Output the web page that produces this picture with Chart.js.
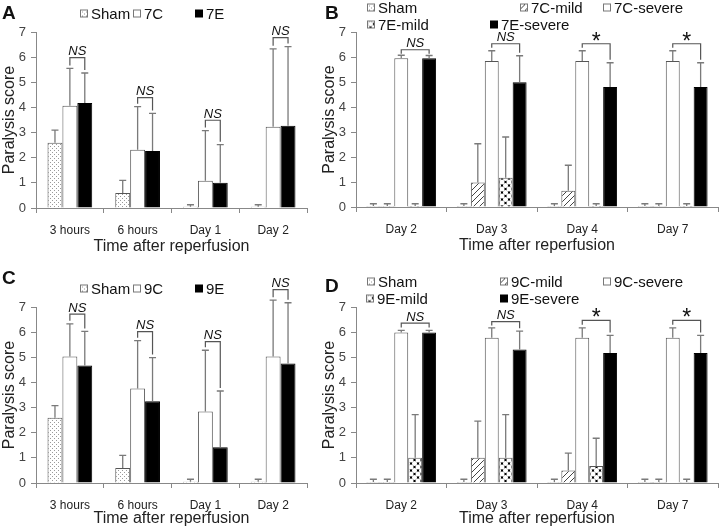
<!DOCTYPE html>
<html>
<head>
<meta charset="utf-8">
<script src="https://cdn.jsdelivr.net/npm/chart.js@4.4.0/dist/chart.umd.min.js"></script>
<style>
  body { margin: 0; width: 720px; height: 528px; position: relative; overflow: hidden; background: #fff;
         font-family: "Liberation Sans", Arial, sans-serif; color: #111; }
  canvas.panel { position: absolute; }
  .lbl { position: absolute; font-weight: bold; font-size: 19px; line-height: 1; transform: translateY(-50%); }
  .leg { position: absolute; font-size: 15px; line-height: 1; white-space: nowrap; transform: translateY(-50%);
         display: flex; align-items: center; }
  .leg canvas { margin-right: 3px; }
</style>
</head>
<body>
<canvas id="chartA" class="panel" width="320" height="264" style="left:0;top:0"></canvas>
<canvas id="chartB" class="panel" width="400" height="264" style="left:320px;top:0"></canvas>
<canvas id="chartC" class="panel" width="320" height="268" style="left:0;top:264px"></canvas>
<canvas id="chartD" class="panel" width="400" height="268" style="left:320px;top:264px"></canvas>

<div class="lbl" style="left:2px;top:12px">A</div>
<div class="lbl" style="left:325px;top:12px">B</div>
<div class="lbl" style="left:2px;top:277px">C</div>
<div class="lbl" style="left:325px;top:285px">D</div>
<div id="legends"></div>

<script>
// categories
const hoursLabels = ['3 hours', '6 hours', 'Day 1', 'Day 2'];
const daysLabels = ['Day 2', 'Day 3', 'Day 4', 'Day 7'];

// panel A (mean, SD)
const shamA = [2.6, 0.6, 0.05, 0.05];
const shamA_sd = [0.5, 0.5, 0.08, 0.08];
const c7A = [4.07, 2.32, 1.08, 3.23];
const c7A_sd = [1.48, 1.71, 2.0, 3.1];
const e7A = [4.18, 2.27, 1.0, 3.27];
const e7A_sd = [1.19, 1.49, 1.52, 3.15];
const bracketA = [5.98, 4.39, 3.49, 6.78];
const sigA = ['NS', 'NS', 'NS', 'NS'];

// panel B
const shamB = [0.04, 0.04, 0.04, 0.04];
const shamB_sd = [0.09, 0.09, 0.09, 0.09];
const c7mildB = [0.04, 0.98, 0.65, 0.04];
const c7mildB_sd = [0.09, 1.55, 1.02, 0.09];
const c7sevB = [5.95, 5.84, 5.84, 5.84];
const c7sevB_sd = [0.12, 0.41, 0.41, 0.41];
const e7mildB = [0.04, 1.17, 0.04, 0.04];
const e7mildB_sd = [0.09, 1.63, 0.09, 0.09];
const e7sevB = [5.95, 4.99, 4.8, 4.8];
const e7sevB_sd = [0.11, 1.06, 0.97, 0.97];
const bracketB = [6.29, 6.53, 6.53, 6.53];
const sigB = ['NS', 'NS', '*', '*'];

// panel C
const shamC = [2.6, 0.6, 0.05, 0.05];
const shamC_sd = [0.48, 0.5, 0.1, 0.1];
const c9C = [5.03, 3.76, 2.84, 5.03];
const c9C_sd = [1.3, 1.9, 2.44, 2.24];
const e9C = [4.67, 3.25, 1.42, 4.75];
const e9C_sd = [1.36, 1.74, 2.24, 2.42];
const bracketC = [6.72, 6.02, 5.62, 7.69];
const sigC = ['NS', 'NS', 'NS', 'NS'];

// panel D
const shamD = [0.04, 0.04, 0.04, 0.04];
const shamD_sd = [0.11, 0.11, 0.11, 0.11];
const c9mildD = [0.04, 1.0, 0.5, 0.04];
const c9mildD_sd = [0.11, 1.46, 0.69, 0.11];
const c9sevD = [5.99, 5.78, 5.78, 5.78];
const c9sevD_sd = [0.08, 0.39, 0.39, 0.39];
const e9mildD = [1.0, 1.0, 0.68, 0.04];
const e9mildD_sd = [1.72, 1.72, 1.1, 0.11];
const e9sevD = [5.99, 5.31, 5.17, 5.17];
const e9sevD_sd = [0.08, 0.73, 0.7, 0.7];
const bracketD = [6.36, 6.42, 6.47, 6.47];
const sigD = ['NS', 'NS', '*', '*'];

const FONT = '"Liberation Sans", Arial, sans-serif';

// fill patterns
function tile(size, draw) {
  const c = document.createElement('canvas');
  c.width = c.height = size;
  draw(c.getContext('2d'), size);
  return c;
}
const tiles = {
  dots: tile(4, (g) => {
    g.fillStyle = '#fff'; g.fillRect(0, 0, 4, 4);
    g.fillStyle = '#9a9a9a'; g.fillRect(0, 0, 1, 1); g.fillRect(2, 2, 1, 1);
  }),
  hatch: tile(6, (g, s) => {
    g.fillStyle = '#fff'; g.fillRect(0, 0, s, s);
    g.strokeStyle = '#444'; g.lineWidth = 1;
    g.beginPath();
    g.moveTo(-1, s + 1); g.lineTo(s + 1, -1);
    g.moveTo(-1, 1); g.lineTo(1, -1);
    g.moveTo(s - 1, s + 1); g.lineTo(s + 1, s - 1);
    g.stroke();
  }),
  cross: tile(7, (g, s) => {
    g.fillStyle = '#000'; g.fillRect(0, 0, s, s);
    g.fillStyle = '#fff';
    [[s / 2, s / 2], [0, 0], [s, 0], [0, s], [s, s]].forEach(([x, y]) => {
      g.beginPath(); g.arc(x, y, 2.5, 0, Math.PI * 2); g.fill();
    });
  }),
  white: tile(2, (g) => { g.fillStyle = '#fff'; g.fillRect(0, 0, 2, 2); }),
  black: tile(2, (g) => { g.fillStyle = '#000'; g.fillRect(0, 0, 2, 2); })
};
const pctx = document.createElement('canvas').getContext('2d');
function pat(name) { return pctx.createPattern(tiles[name], 'repeat'); }

function ds(label, data, sd, fill) {
  return {
    label, data, sd,
    backgroundColor: fill === 'black' ? '#000' : (fill === 'white' ? '#fff' : pat(fill)),
    borderColor: fill === 'black' ? '#000' : '#555',
    borderWidth: 1,
    barPercentage: 1
  };
}

// one-sided error bars
const errBars = {
  id: 'errBars',
  afterDatasetsDraw(chart) {
    const ctx = chart.ctx, y = chart.scales.y;
    ctx.save();
    ctx.strokeStyle = '#7a7a7a';
    ctx.lineWidth = 1.3;
    chart.data.datasets.forEach((d, i) => {
      chart.getDatasetMeta(i).data.forEach((bar, j) => {
        const top = y.getPixelForValue(d.data[j] + d.sd[j]);
        ctx.beginPath();
        ctx.moveTo(bar.x, bar.y);
        ctx.lineTo(bar.x, top);
        ctx.moveTo(bar.x - 3.5, top);
        ctx.lineTo(bar.x + 3.5, top);
        ctx.stroke();
      });
    });
    ctx.restore();
  }
};

// significance brackets between two datasets
function bracketPlugin(a, b, tops, sig) {
  return {
    id: 'brackets',
    afterDatasetsDraw(chart) {
      const ctx = chart.ctx, y = chart.scales.y;
      const da = chart.data.datasets[a], db = chart.data.datasets[b];
      const ma = chart.getDatasetMeta(a), mb = chart.getDatasetMeta(b);
      ctx.save();
      ctx.strokeStyle = '#555';
      ctx.lineWidth = 1.2;
      ctx.fillStyle = '#111';
      ctx.textAlign = 'center';
      tops.forEach((t, j) => {
        const yt = y.getPixelForValue(t);
        const xa = ma.data[j].x, xb = mb.data[j].x;
        const la = Math.max(yt + 4, y.getPixelForValue(da.data[j] + da.sd[j]) - 3);
        const lb = Math.max(yt + 4, y.getPixelForValue(db.data[j] + db.sd[j]) - 3);
        ctx.beginPath();
        ctx.moveTo(xa, la); ctx.lineTo(xa, yt); ctx.lineTo(xb, yt); ctx.lineTo(xb, lb);
        ctx.stroke();
        const cx = (xa + xb) / 2;
        if (sig[j] === '*') {
          ctx.font = '23px ' + FONT;
          ctx.fillText('*', cx, yt + 5);
        } else {
          ctx.font = 'italic 13px ' + FONT;
          ctx.fillText(sig[j], cx, yt - 2.5);
        }
      });
      ctx.restore();
    }
  };
}

function makeChart(id, labels, datasets, pair, tops, sig, catPct, pad, xHeight, titleBottom) {
  return new Chart(document.getElementById(id), {
    type: 'bar',
    data: { labels, datasets: datasets.map(d => Object.assign(d, { categoryPercentage: catPct })) },
    options: {
      responsive: false,
      animation: false,
      layout: { padding: pad },
      plugins: { legend: { display: false }, tooltip: { enabled: false } },
      scales: {
        x: {
          grid: { drawOnChartArea: false, tickLength: 5, color: '#888' },
          border: { color: '#888' },
          ticks: { font: { size: 12, family: FONT }, color: '#222', padding: 10 },
          title: { display: true, text: 'Time after reperfusion', font: { size: 16, family: FONT }, color: '#222', padding: { top: 3, bottom: titleBottom } },
          afterFit: s => { s.height = xHeight; }
        },
        y: {
          min: 0, max: 7,
          grid: { drawOnChartArea: false, tickLength: 5, color: '#888' },
          border: { color: '#888' },
          ticks: { stepSize: 1, font: { size: 13, family: FONT }, color: '#444', padding: 5 },
          title: { display: true, text: 'Paralysis score', font: { size: 16, family: FONT }, color: '#222', padding: 0 },
          afterFit: s => { s.width = 36; }
        }
      }
    },
    plugins: [errBars, bracketPlugin(pair[0], pair[1], tops, sig)]
  });
}

makeChart('chartA', hoursLabels, [
  ds('Sham', shamA, shamA_sd, 'dots'),
  ds('7C', c7A, c7A_sd, 'white'),
  ds('7E', e7A, e7A_sd, 'black')
], [1, 2], bracketA, sigA, 0.66, { top: 32, right: 13, bottom: 8, left: 0 }, 48, 0);

makeChart('chartB', daysLabels, [
  ds('Sham', shamB, shamB_sd, 'dots'),
  ds('7C-mild', c7mildB, c7mildB_sd, 'hatch'),
  ds('7C-severe', c7sevB, c7sevB_sd, 'white'),
  ds('7E-mild', e7mildB, e7mildB_sd, 'cross'),
  ds('7E-severe', e7sevB, e7sevB_sd, 'black')
], [2, 4], bracketB, sigB, 0.77, { top: 32, right: 2, bottom: 9, left: 0 }, 48, 0);

makeChart('chartC', hoursLabels, [
  ds('Sham', shamC, shamC_sd, 'dots'),
  ds('9C', c9C, c9C_sd, 'white'),
  ds('9E', e9C, e9C_sd, 'black')
], [1, 2], bracketC, sigC, 0.66, { top: 43, right: 13, bottom: 0, left: 0 }, 49, 4);

makeChart('chartD', daysLabels, [
  ds('Sham', shamD, shamD_sd, 'dots'),
  ds('9C-mild', c9mildD, c9mildD_sd, 'hatch'),
  ds('9C-severe', c9sevD, c9sevD_sd, 'white'),
  ds('9E-mild', e9mildD, e9mildD_sd, 'cross'),
  ds('9E-severe', e9sevD, e9sevD_sd, 'black')
], [2, 4], bracketD, sigD, 0.77, { top: 43, right: 2, bottom: 0, left: 0 }, 49, 4);

// legends
function legendItem(text, fill, x, y) {
  const div = document.createElement('div');
  div.className = 'leg';
  div.style.left = x + 'px';
  div.style.top = y + 'px';
  const sw = document.createElement('canvas');
  sw.width = sw.height = 8;
  const g = sw.getContext('2d');
  g.fillStyle = g.createPattern(tiles[fill], 'repeat');
  g.fillRect(0, 0, 8, 8);
  g.strokeStyle = fill === 'black' ? '#000' : '#777';
  g.strokeRect(0.5, 0.5, 7, 7);
  div.appendChild(sw);
  div.appendChild(document.createTextNode(text));
  document.getElementById('legends').appendChild(div);
}
legendItem('Sham', 'dots', 80, 13);
legendItem('7C', 'white', 133, 13);
legendItem('7E', 'black', 195, 13);
legendItem('Sham', 'dots', 367, 7);
legendItem('7C-mild', 'hatch', 520, 7);
legendItem('7C-severe', 'white', 603, 7);
legendItem('7E-mild', 'cross', 367, 24);
legendItem('7E-severe', 'black', 490, 24);
legendItem('Sham', 'dots', 80, 288);
legendItem('9C', 'white', 133, 288);
legendItem('9E', 'black', 195, 288);
legendItem('Sham', 'dots', 367, 281);
legendItem('9C-mild', 'hatch', 500, 281);
legendItem('9C-severe', 'white', 603, 281);
legendItem('9E-mild', 'cross', 366, 298);
legendItem('9E-severe', 'black', 500, 298);
</script>
</body>
</html>
